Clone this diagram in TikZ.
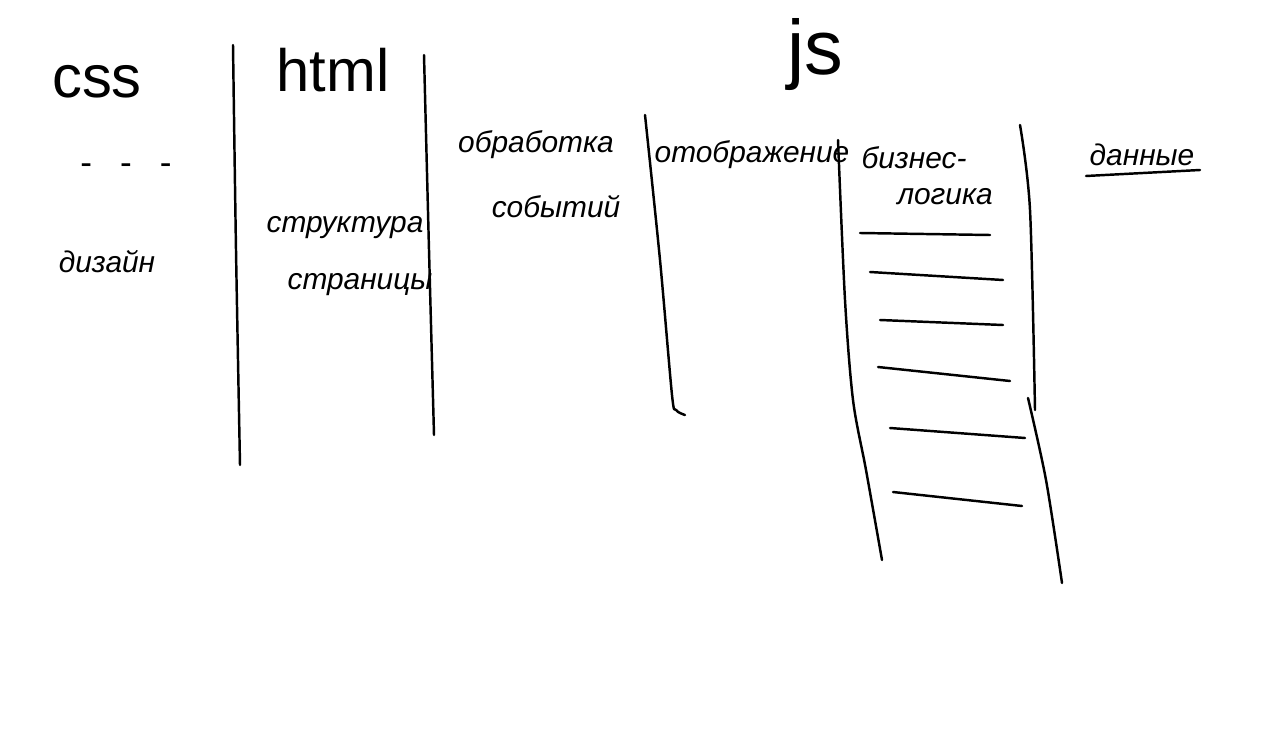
\documentclass[tikz,border=0pt]{standalone}
\usepackage{fontspec}
\setmainfont{Liberation Sans}
\begin{document}
\begin{tikzpicture}[x=0.02cm,y=-0.02cm,
  pen/.style={line width=1.4pt,line cap=round,line join=round},
  hw/.style={font=\fontsize{17}{19}\selectfont\itshape,inner sep=0pt},
  big/.style={font=\fontsize{34}{36}\selectfont,inner sep=0pt}]
\useasboundingbox (0,0) rectangle (1280,733);
% headers
\node[big] (css) at (97,82) {css};
\node[big] (html) at (333,70) {html};
\node[font=\fontsize{44}{46}\selectfont,inner sep=0pt] (js) at (815,55) {js};
% css column
\node[font=\fontsize{20}{22}\selectfont,inner sep=0pt] (dots) at (126,169) {-\hspace{0.8em}-\hspace{0.8em}-};
\node[hw] (dizayn) at (107,262) {дизайн};
% html column
\node[hw] (str1) at (345,228) {структура};
\node[hw] (str2) at (360,285) {страницы};
% js columns
\node[hw] (obr1) at (536,145) {обработка};
\node[hw] (obr2) at (556,207) {событий};
\node[hw] (otob) at (752,155) {отображение};
\node[hw] (biz1) at (914,158) {бизнес-};
\node[hw] (biz2) at (945,197) {логика};
\node[hw] (dan) at (1142,155) {данные};
\coordinate (u1) at (1086,176);
\coordinate (u2) at (1200,170);
\draw[pen] (u1) -- (u2);
% dividers
\draw[pen] plot[smooth] coordinates {(233,45) (236,250) (240,465)};
\draw[pen] plot[smooth] coordinates {(424,55) (429,250) (434,435)};
\draw[pen] plot[smooth] coordinates {(645,115) (660,260) (672,395) (676,410) (685,415)};
\draw[pen] plot[smooth] coordinates {(838,140) (845,300) (853,400) (866,470) (882,560)};
\draw[pen] plot[smooth] coordinates {(1020,125) (1030,210) (1035,410)};
\draw[pen] plot[smooth] coordinates {(1028,398) (1046,480) (1062,583)};
% business-logic lines
\draw[pen] (860,233) -- (990,235);
\draw[pen] (870,272) -- (1003,280);
\draw[pen] (880,320) -- (1003,325);
\draw[pen] (878,367) -- (1010,381);
\draw[pen] (890,428) -- (1025,438);
\draw[pen] (893,492) -- (1022,506);
\end{tikzpicture}
\end{document}
